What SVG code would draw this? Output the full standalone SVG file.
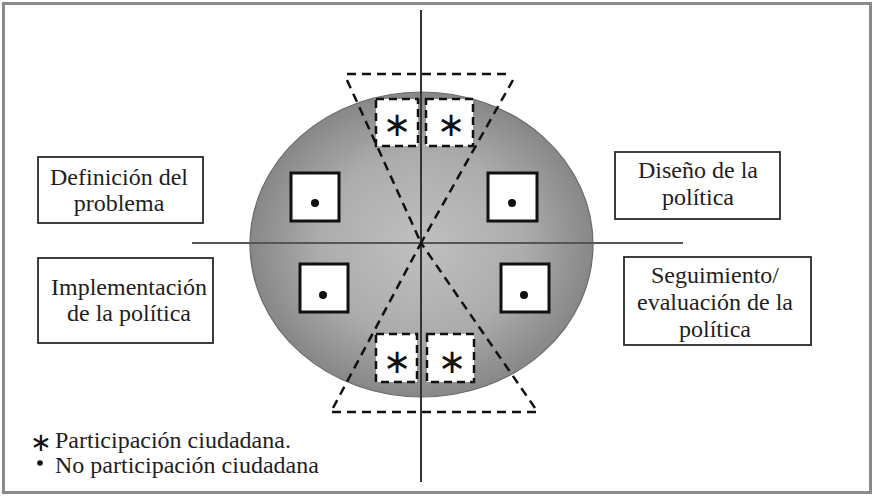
<svg xmlns="http://www.w3.org/2000/svg" width="874" height="496" viewBox="0 0 874 496">
  <defs>
    <radialGradient id="g" cx="0.5" cy="0.5" r="0.5">
      <stop offset="0" stop-color="#c0c0c0"/>
      <stop offset="0.6" stop-color="#acacac"/>
      <stop offset="1" stop-color="#878787"/>
    </radialGradient>
  </defs>
  <style>
    .lbl { font-size: 24px; fill: #1e1e1e; text-anchor: middle; }
    .leg { font-size: 24px; fill: #1e1e1e; }
    .box { fill: #ffffff; stroke: #2a2a2a; stroke-width: 1.8; }
    .sq { fill: #ffffff; stroke: #111; stroke-width: 3; }
    .dsq { fill: #ffffff; stroke: #111; stroke-width: 2.5; stroke-dasharray: 8 5; }
    .dash { fill: none; stroke: #111; stroke-width: 2.5; stroke-dasharray: 9 6; }
    .ast { font-family: "DejaVu Sans", sans-serif; font-size: 34px; fill: #111; text-anchor: middle; }
  </style>
  <rect x="3.5" y="3.5" width="867" height="489" fill="#ffffff" stroke="#8a8a8a" stroke-width="3"/>

  <g id="circle">
    <ellipse cx="421.5" cy="244.5" rx="171.5" ry="152.5" fill="url(#g)" stroke="#6a6a6a" stroke-width="1.2"/>
  </g>

  <g id="connectors">
    <line x1="192" y1="243" x2="683" y2="243" stroke="#555" stroke-width="2"/>
    <line x1="421" y1="10" x2="421" y2="482" stroke="#333" stroke-width="2"/>
    <line class="dash" x1="347" y1="74" x2="511" y2="74"/>
    <line class="dash" x1="347" y1="80" x2="421" y2="243"/>
    <line class="dash" x1="513" y1="80" x2="421" y2="243"/>
    <line class="dash" x1="332" y1="412" x2="538" y2="412"/>
    <line class="dash" x1="333" y1="408" x2="421" y2="243"/>
    <line class="dash" x1="535" y1="408" x2="421" y2="243"/>
  </g>

  <g id="p-top-left">
    <rect class="dsq" x="376" y="99" width="42" height="47"/>
    <text class="ast" x="397" y="136">∗</text>
  </g>
  <g id="p-top-right">
    <rect class="dsq" x="426" y="99" width="47" height="47"/>
    <text class="ast" x="451" y="136">∗</text>
  </g>
  <g id="p-bottom-left">
    <rect class="dsq" x="376" y="334" width="41" height="48"/>
    <text class="ast" x="397" y="373">∗</text>
  </g>
  <g id="p-bottom-right">
    <rect class="dsq" x="427" y="334" width="47" height="48"/>
    <text class="ast" x="452" y="373">∗</text>
  </g>

  <g id="n-top-left">
    <rect class="sq" x="291" y="173" width="48" height="48"/>
    <circle cx="315" cy="203" r="4" fill="#111"/>
  </g>
  <g id="n-top-right">
    <rect class="sq" x="488" y="173" width="49" height="48"/>
    <circle cx="512" cy="203" r="4" fill="#111"/>
  </g>
  <g id="n-bottom-left">
    <rect class="sq" x="300" y="264" width="48" height="48"/>
    <circle cx="323" cy="295" r="4" fill="#111"/>
  </g>
  <g id="n-bottom-right">
    <rect class="sq" x="501" y="264" width="48" height="48"/>
    <circle cx="524" cy="295" r="4" fill="#111"/>
  </g>

  <g font-family="Liberation Serif, Times New Roman, DejaVu Serif, serif">
  <g id="definicion">
    <rect class="box" x="38" y="157" width="165" height="66"/>
    <text class="lbl" x="119" y="185">Definición del</text>
    <text class="lbl" x="119" y="211">problema</text>
  </g>
  <g id="implementacion">
    <rect class="box" x="38" y="258" width="175" height="85"/>
    <text class="lbl" x="129" y="295">Implementación</text>
    <text class="lbl" x="129" y="321">de la política</text>
  </g>
  <g id="diseno">
    <rect class="box" x="615" y="152" width="165" height="67"/>
    <text class="lbl" x="698" y="178">Diseño de la</text>
    <text class="lbl" x="698" y="205">política</text>
  </g>
  <g id="seguimiento">
    <rect class="box" x="624" y="257" width="187" height="88"/>
    <text class="lbl" x="715" y="283">Seguimiento/</text>
    <text class="lbl" x="715" y="310">evaluación de la</text>
    <text class="lbl" x="715" y="337">política</text>
  </g>

  <g id="legend">
    <text class="ast" x="41" y="451" style="font-size:26px">∗</text>
    <text class="leg" x="55" y="448">Participación ciudadana.</text>
    <circle cx="40" cy="463" r="2.8" fill="#111"/>
    <text class="leg" x="55" y="473">No participación ciudadana</text>
  </g>
  </g>
</svg>
